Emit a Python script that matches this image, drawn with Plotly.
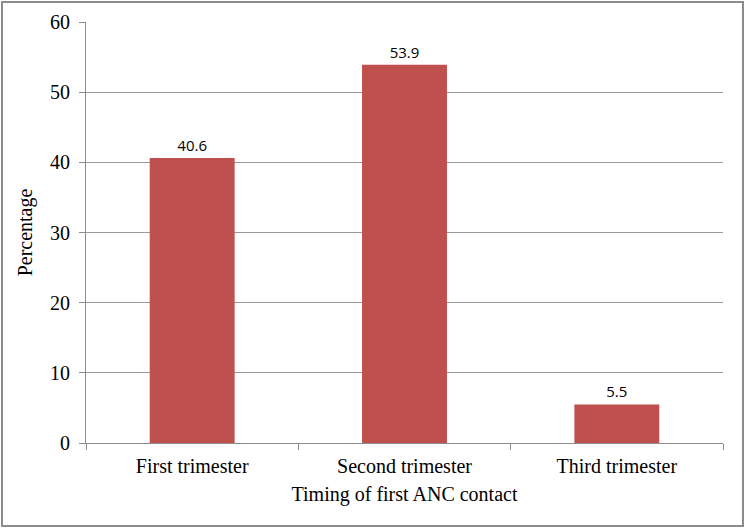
import plotly.graph_objects as go

categories = ["First trimester", "Second trimester", "Third trimester"]
percentages = [40.6, 53.9, 5.5]
bar_labels = ["40.6", "53.9", "5.5"]

W, H = 745, 528
L, R, T, B = 86, 22, 22, 85
pw, ph = W - L - R, H - T - B

fig = go.Figure(
    go.Bar(
        x=categories,
        y=percentages,
        text=bar_labels,
        textposition="outside",
        textfont=dict(family="Open Sans", size=15, color="black"),
        marker=dict(color="#C0504D", line=dict(width=0)),
        width=0.4,
        cliponaxis=False,
    )
)

fig.update_layout(
    width=W,
    height=H,
    margin=dict(l=L, r=R, t=T, b=B),
    plot_bgcolor="white",
    paper_bgcolor="white",
    showlegend=False,
    font=dict(family="Liberation Serif", size=20, color="black"),
    xaxis=dict(
        title=dict(text="Timing of first ANC contact", font=dict(size=20), standoff=10),
        automargin=False,
        showline=True,
        linecolor="#8c8c8c",
        linewidth=1,
        ticks="outside",
        tickson="boundaries",
        ticklen=6,
        tickcolor="#8c8c8c",
        tickfont=dict(size=20),
        ticklabelstandoff=5,
        showgrid=False,
    ),
    yaxis=dict(
        title=dict(text="Percentage", font=dict(size=20), standoff=12),
        automargin=False,
        range=[0, 60],
        dtick=10,
        showline=True,
        linecolor="#8c8c8c",
        linewidth=1,
        ticks="outside",
        ticklen=6,
        tickcolor="#8c8c8c",
        tickfont=dict(size=20),
        ticklabelstandoff=5,
        showgrid=True,
        gridcolor="#9a9a9a",
        gridwidth=1,
        zeroline=False,
    ),
)

# outer frame around the whole chart
fig.add_shape(
    type="rect",
    xref="paper",
    yref="paper",
    x0=(2 - L) / pw,
    x1=(W - 2 - L) / pw,
    y0=-(H - 2 - T - ph) / ph,
    y1=1 + (T - 2) / ph,
    line=dict(color="#8c8c8c", width=2),
    layer="below",
)

fig.write_html(
    "out.html",
    config={"displayModeBar": False},
    post_script="document.body.style.margin='0px';",
)
